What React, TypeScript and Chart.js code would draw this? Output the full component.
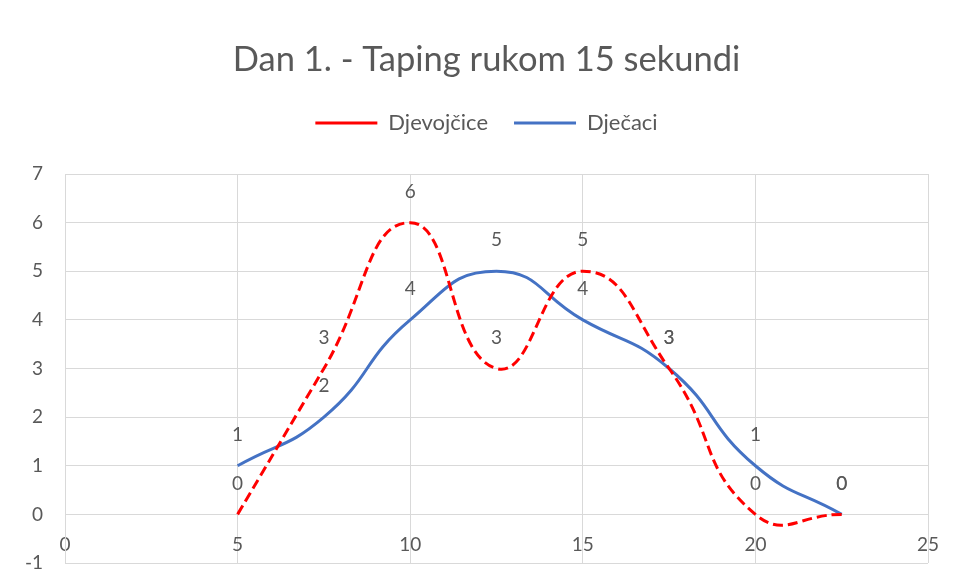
import React, { useEffect, useRef } from 'react';
import { Chart, registerables } from 'chart.js';

Chart.register(...registerables);

const TITLE = 'Dan 1. - Taping rukom 15 sekundi';
const SERIES_NAMES = ['Djevojčice', 'Dječaci'];
const xValues = [5, 7.5, 10, 12.5, 15, 17.5, 20, 22.5];
const djevojcice = [0, 3, 6, 3, 5, 3, 0, 0];
const djecaci = [1, 2, 4, 5, 4, 3, 1, 0];
const X_MIN = 0;
const X_MAX = 25;
const X_STEP = 5;
const Y_MIN = -1;
const Y_MAX = 7;
const Y_STEP = 1;

const FONT = 'Lato, "Open Sans", sans-serif';
const TEXT_COLOR = '#595959';
const GRID_COLOR = '#d9d9d9';

const valueLabels = {
  id: 'valueLabels',
  afterDatasetsDraw(chart: any) {
    const ctx = chart.ctx;
    ctx.save();
    ctx.font = `19px ${FONT}`;
    ctx.fillStyle = TEXT_COLOR;
    ctx.textAlign = 'center';
    ctx.textBaseline = 'middle';
    chart.data.datasets.forEach((ds: any, i: number) => {
      const meta = chart.getDatasetMeta(i);
      meta.data.forEach((el: any, j: number) => {
        const v = ds.data[j].y;
        ctx.fillText(String(v), el.x, el.y - 31);
      });
    });
    ctx.restore();
  },
};

export default function App() {
  const ref = useRef<HTMLCanvasElement | null>(null);

  useEffect(() => {
    if (!ref.current) return;
    const toPoints = (ys: number[]) => xValues.map((x, i) => ({ x, y: ys[i] }));
    const chart = new Chart(ref.current, {
      type: 'line',
      data: {
        datasets: [
          {
            label: SERIES_NAMES[0],
            data: toPoints(djevojcice),
            borderColor: '#FF0000',
            backgroundColor: '#FF0000',
            borderWidth: 3,
            borderDash: [10, 5],
            tension: 0.5,
            pointRadius: 0,
            pointHoverRadius: 0,
            pointStyle: 'line',
            fill: false,
          },
          {
            label: SERIES_NAMES[1],
            data: toPoints(djecaci),
            borderColor: '#4472C4',
            backgroundColor: '#4472C4',
            borderWidth: 3,
            tension: 0.5,
            pointRadius: 0,
            pointHoverRadius: 0,
            pointStyle: 'line',
            fill: false,
          },
        ],
      },
      options: {
        responsive: false,
        animation: false,
        devicePixelRatio: 1,
        layout: { padding: { left: 20, right: 2, top: 0, bottom: 20 } },
        plugins: {
          title: {
            display: true,
            text: TITLE,
            color: TEXT_COLOR,
            font: { family: FONT, size: 34.5, weight: 'normal' },
            padding: { top: 39, bottom: 5.6 },
          },
          legend: {
            display: true,
            position: 'top',
            labels: {
              color: TEXT_COLOR,
              font: { family: FONT, size: 22 },
              usePointStyle: true,
              pointStyleWidth: 62,
              padding: 26,
            },
          },
          tooltip: { enabled: false },
        },
        scales: {
          x: {
            type: 'linear',
            min: X_MIN,
            max: X_MAX,
            position: { y: 0 },
            ticks: {
              stepSize: X_STEP,
              color: TEXT_COLOR,
              font: { family: FONT, size: 19 },
              padding: 19.5,
            },
            grid: { color: GRID_COLOR, lineWidth: 1, drawTicks: false },
            border: { color: GRID_COLOR, width: 1 },
            afterFit: (s: any) => {
              s.paddingLeft = 0;
              s.paddingRight = 0;
            },
          },
          y: {
            type: 'linear',
            min: Y_MIN,
            max: Y_MAX,
            ticks: {
              stepSize: Y_STEP,
              color: TEXT_COLOR,
              font: { family: FONT, size: 19 },
              padding: 22,
            },
            grid: { color: GRID_COLOR, lineWidth: 1, drawTicks: false },
            border: { color: GRID_COLOR, width: 1 },
            afterFit: (s: any) => {
              s.width = 45;
              s.paddingTop = 0;
              s.paddingBottom = 0;
            },
          },
          spacerTop: {
            type: 'linear',
            position: 'top',
            display: true,
            grid: { display: false },
            border: { display: false },
            ticks: { display: false },
            afterFit: (s: any) => {
              s.height = 30;
              s.paddingLeft = 0;
              s.paddingRight = 0;
            },
          },
          spacerRight: {
            type: 'linear',
            position: 'right',
            display: true,
            grid: { display: false },
            border: { display: false },
            ticks: { display: false },
            afterFit: (s: any) => {
              s.width = 25;
              s.paddingTop = 0;
              s.paddingBottom = 0;
            },
          },
        },
      },
      plugins: [valueLabels],
    } as any);
    return () => chart.destroy();
  }, []);

  return (
    <div style={{ position: 'absolute', left: 0, top: 0, width: 955, height: 583 }}>
      <canvas ref={ref} width={955} height={583} />
    </div>
  );
}
